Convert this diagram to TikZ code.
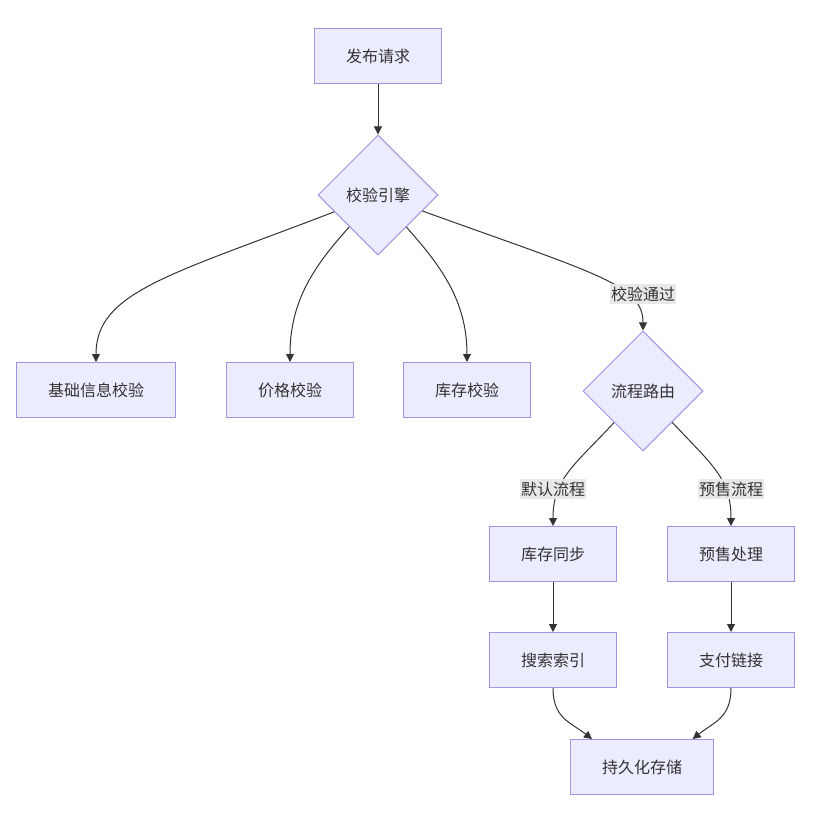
\documentclass[tikz,border=0pt]{standalone}
\usepackage{fontspec}
\newfontfamily\cjk{Noto Sans CJK SC}
\usetikzlibrary{shapes.geometric,arrows.meta}
\definecolor{nodefill}{HTML}{ECECFF}
\definecolor{nodeborder}{HTML}{A591E2}
\definecolor{ink}{HTML}{333333}
\definecolor{labelbg}{HTML}{E8E8E8}
\begin{document}
\begin{tikzpicture}[x=0.75pt, y=-0.75pt,
box/.style={draw=nodeborder, fill=nodefill, line width=0.75pt, text=ink, font=\cjk\fontsize{12}{14}\selectfont, minimum height=41.25pt, inner xsep=23.6pt},
choice/.style={diamond, aspect=1, draw=nodeborder, fill=nodefill, line width=0.75pt, text=ink, font=\cjk\fontsize{12}{14}\selectfont, minimum size=90pt, inner sep=0pt},
edgelab/.style={fill=labelbg, text=ink, font=\cjk\fontsize{12}{14}\selectfont, inner xsep=1pt, inner ysep=2pt},
flow/.style={draw=ink, line width=0.75pt, -{Triangle[length=6pt,width=6pt]}}]
\useasboundingbox (0,0) rectangle (822,814);
\node[box] (req) at (378,56) {发布请求};
\node[choice] (eng) at (378,195) {校验引擎};
\node[box] (base) at (96,390) {基础信息校验};
\node[box] (price) at (290,390) {价格校验};
\node[box] (stock) at (467,390) {库存校验};
\node[choice] (route) at (643,391) {流程路由};
\node[box] (sync) at (553,554) {库存同步};
\node[box] (pre) at (731,554) {预售处理};
\node[box] (index) at (553,660) {搜索索引};
\node[box] (pay) at (731,660) {支付链接};
\node[box] (store) at (642,767) {持久化存储};
% edges
\draw[flow] (req) -- (eng);
\draw[flow] (eng) .. controls (170,275) and (96,292) .. (base);
\draw[flow] (eng) .. controls (315,265) and (290,300) .. (price);
\draw[flow] (eng) .. controls (440,265) and (467,300) .. (stock);
\draw[flow] (eng) .. controls (600,275) and (643,285) .. (route);
\draw[flow] (route) .. controls (575,465) and (553,478) .. (sync);
\draw[flow] (route) .. controls (712,465) and (731,478) .. (pre);
\draw[flow] (sync) -- (index);
\draw[flow] (pre) -- (pay);
\draw[flow] (index.south) .. controls (553,718) and (570,722) .. ([xshift=-37.5pt]store.north);
\draw[flow] (pay.south) .. controls (731,718) and (714,722) .. ([xshift=38pt]store.north);
% edge labels
\node[edgelab] (pass) at (643,294) {校验通过};
\node[edgelab] (normal) at (553,489) {默认流程};
\node[edgelab] (presale) at (731,489) {预售流程};
\end{tikzpicture}
\end{document}
